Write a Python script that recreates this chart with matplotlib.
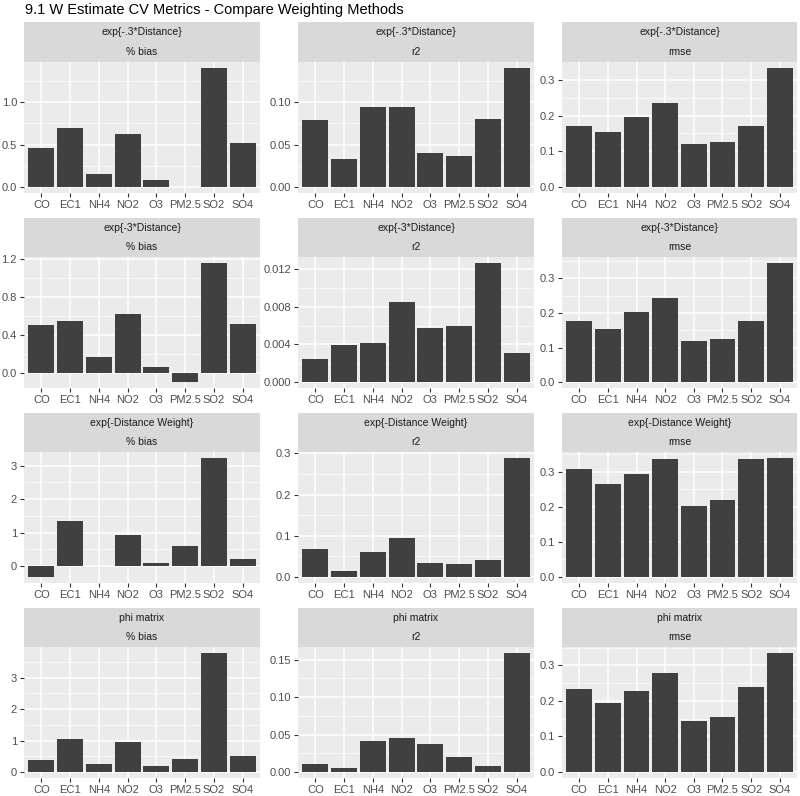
import numpy as np
import matplotlib
matplotlib.use("Agg")
import matplotlib.pyplot as plt

plt.rcParams["font.family"] = ["Liberation Sans", "DejaVu Sans"]

# Data
pollutants = ["CO", "EC1", "NH4", "NO2", "O3", "PM2.5", "SO2", "SO4"]
methods = ["exp{-.3*Distance}", "exp{-3*Distance}", "exp{-Distance Weight}", "phi matrix"]
metrics = ["% bias", "r2", "rmse"]

bias_exp03 = [0.455, 0.70, 0.157, 0.627, 0.078, 0.0, 1.404, 0.52]
r2_exp03 = [0.0789, 0.0328, 0.0945, 0.0938, 0.0406, 0.0367, 0.0805, 0.140]
rmse_exp03 = [0.171, 0.153, 0.196, 0.235, 0.119, 0.125, 0.171, 0.333]

bias_exp3 = [0.51, 0.552, 0.172, 0.623, 0.070, -0.091, 1.161, 0.517]
r2_exp3 = [0.00244, 0.00392, 0.00417, 0.00851, 0.00575, 0.0060, 0.01264, 0.00311]
rmse_exp3 = [0.178, 0.154, 0.2025, 0.243, 0.1186, 0.126, 0.1755, 0.345]

bias_expw = [-0.33, 1.336, 0.0, 0.917, 0.08, 0.598, 3.23, 0.21]
r2_expw = [0.0685, 0.0137, 0.0613, 0.095, 0.0339, 0.0323, 0.042, 0.289]
rmse_expw = [0.3065, 0.265, 0.292, 0.335, 0.2025, 0.2195, 0.335, 0.339]

bias_phi = [0.397, 1.055, 0.24, 0.95, 0.199, 0.418, 3.78, 0.50]
r2_phi = [0.0102, 0.0049, 0.0408, 0.0461, 0.0377, 0.0204, 0.008, 0.159]
rmse_phi = [0.233, 0.194, 0.228, 0.279, 0.1435, 0.155, 0.2395, 0.335]

values = [
    [bias_exp03, r2_exp03, rmse_exp03],
    [bias_exp3, r2_exp3, rmse_exp3],
    [bias_expw, r2_expw, rmse_expw],
    [bias_phi, r2_phi, rmse_phi],
]

# y tick labels for each panel
yticks = [
    [["0.0", "0.5", "1.0"], ["0.00", "0.05", "0.10"], ["0.0", "0.1", "0.2", "0.3"]],
    [["0.0", "0.4", "0.8", "1.2"], ["0.000", "0.004", "0.008", "0.012"], ["0.0", "0.1", "0.2", "0.3"]],
    [["0", "1", "2", "3"], ["0.0", "0.1", "0.2", "0.3"], ["0.0", "0.1", "0.2", "0.3"]],
    [["0", "1", "2", "3"], ["0.00", "0.05", "0.10", "0.15"], ["0.0", "0.1", "0.2", "0.3"]],
]

W, H = 800, 796
fig = plt.figure(figsize=(W / 100, H / 100), dpi=100)
fig.patch.set_facecolor("white")

cols_x = [(24, 260), (298, 534), (562, 797)]
rows_y = [(22, 62, 193), (218, 257, 388), (413, 452, 583), (608, 647, 778)]


def box(x0, x1, y0, y1):
    return [x0 / W, 1 - y1 / H, (x1 - x0) / W, (y1 - y0) / H]


fig.text(25 / W, 1 - 10 / H, "9.1 W Estimate CV Metrics - Compare Weighting Methods",
         fontsize=10.5, color="black", ha="left", va="center")

x = np.arange(len(pollutants))

for r, (s0, p0, p1) in enumerate(rows_y):
    for c, (x0, x1) in enumerate(cols_x):
        # strip
        sax = fig.add_axes(box(x0, x1, s0, p0))
        sax.set_facecolor("#D9D9D9")
        sax.set_xticks([])
        sax.set_yticks([])
        for sp in sax.spines.values():
            sp.set_visible(False)
        sax.text(0.5, 0.75, methods[r], transform=sax.transAxes, ha="center", va="center",
                 fontsize=7.5, color="#1A1A1A")
        sax.text(0.5, 0.25, metrics[c], transform=sax.transAxes, ha="center", va="center",
                 fontsize=7.5, color="#1A1A1A")

        # panel
        ax = fig.add_axes(box(x0, x1, p0, p1))
        ax.set_facecolor("#EBEBEB")
        vals = np.array(values[r][c])
        lo = min(0, vals.min())
        hi = max(0, vals.max())
        pad = (hi - lo) * 0.05
        ax.set_ylim(lo - pad, hi + pad)
        ax.set_xlim(-0.6, len(pollutants) - 0.4)

        labels = yticks[r][c]
        majors = [float(t) for t in labels]
        step = majors[1] - majors[0]
        minors = [m + step / 2 for m in [majors[0] - step] + majors]
        minors = [m for m in minors if lo - pad < m < hi + pad]

        for m in minors:
            ax.axhline(m, color="white", lw=0.5, zorder=0)
        for m in majors:
            ax.axhline(m, color="white", lw=1.1, zorder=0)
        for xi in x:
            ax.axvline(xi, color="white", lw=1.1, zorder=0)

        ax.bar(x, vals, width=0.9, color="#404040", zorder=2)

        ax.set_yticks(majors)
        ax.set_yticklabels(labels)
        ax.set_xticks(x)
        ax.set_xticklabels(pollutants)
        ax.tick_params(axis="both", length=3, width=0.8, color="#333333",
                       labelsize=8, labelcolor="#4D4D4D", pad=2)
        for sp in ax.spines.values():
            sp.set_visible(False)

fig.savefig("out.png", dpi=100, facecolor="white")
